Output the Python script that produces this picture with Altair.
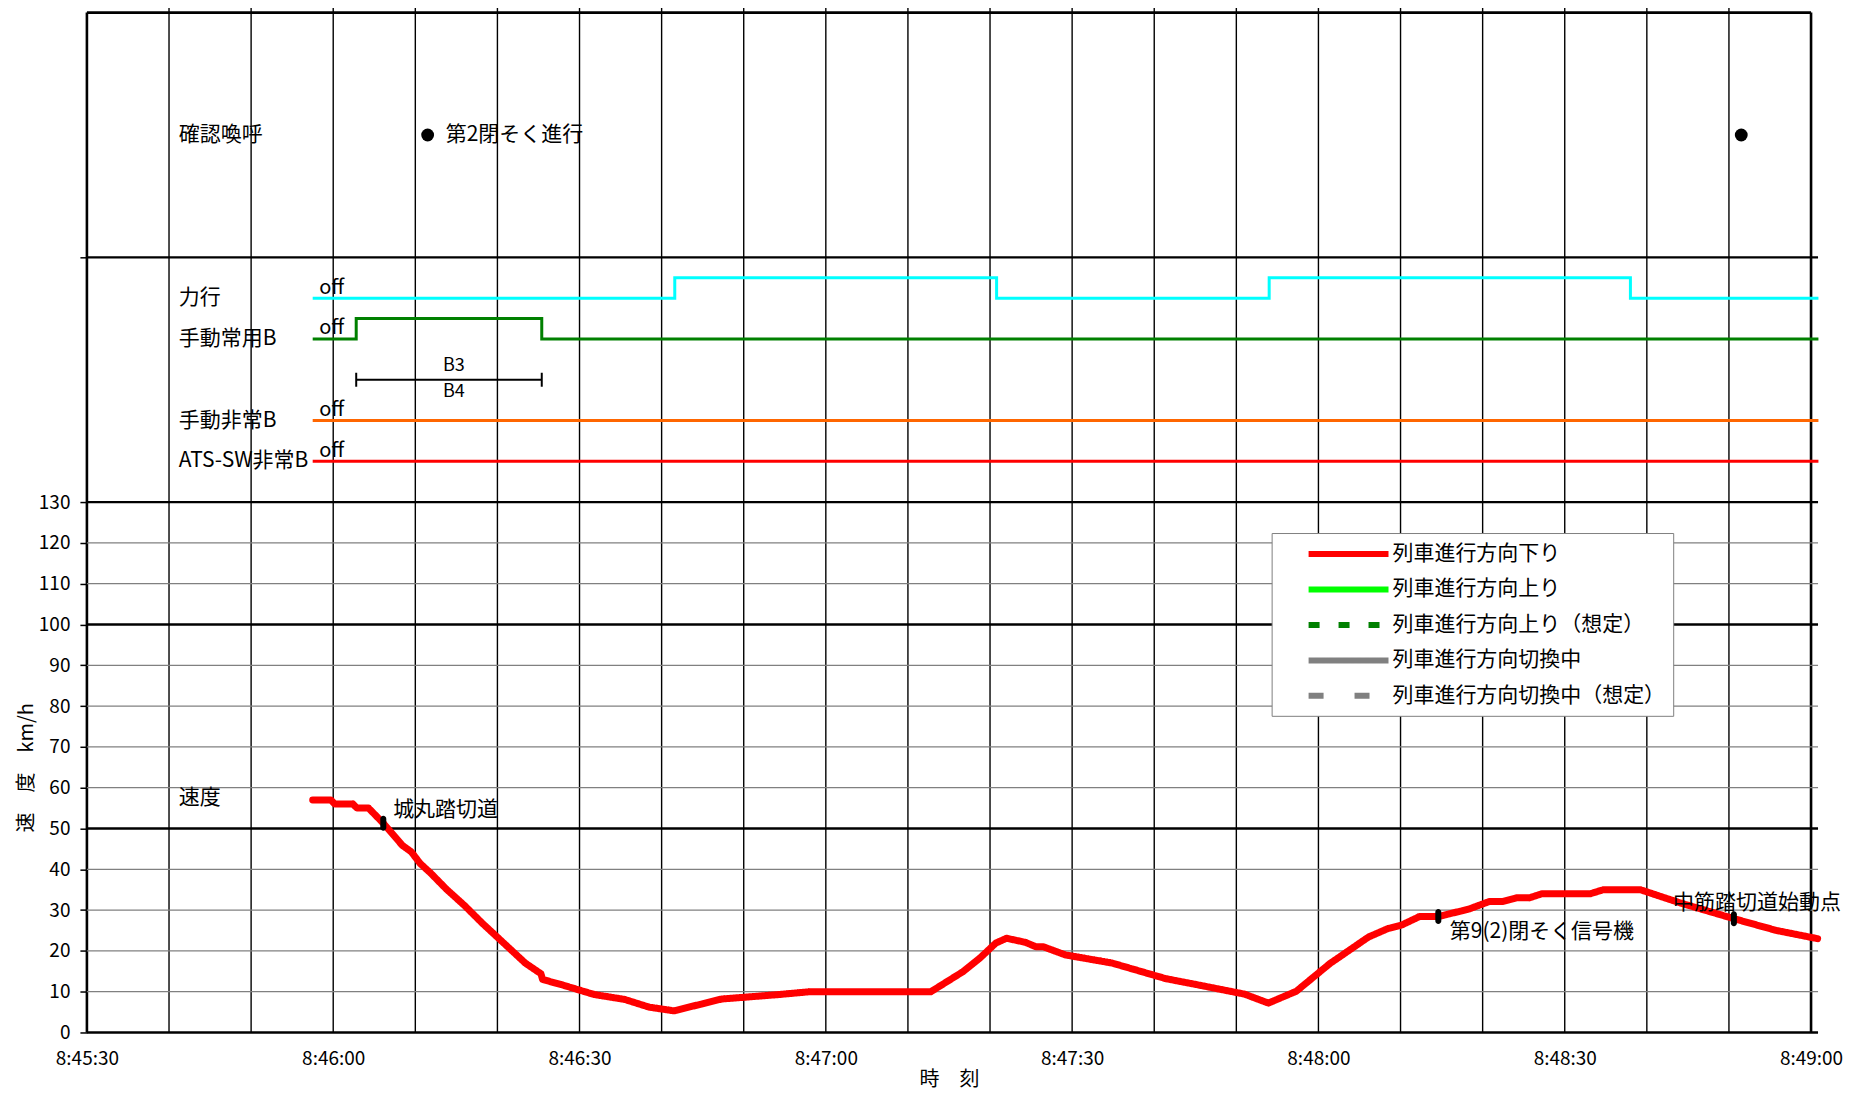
import altair as alt
import pandas as pd


def sec(s):
    h, m, x = s.split(":")
    return int(h) * 3600 + int(m) * 60 + float(x)


# ---------------- data ----------------
X_TICK_LABELS = ["8:45:30", "8:46:00", "8:46:30", "8:47:00", "8:47:30", "8:48:00", "8:48:30", "8:49:00"]
X_GRID_TIMES = ["8:45:40", "8:45:50", "8:46:00", "8:46:10", "8:46:20", "8:46:30", "8:46:40", "8:46:50",
                "8:47:00", "8:47:10", "8:47:20", "8:47:30", "8:47:40", "8:47:50", "8:48:00", "8:48:10",
                "8:48:20", "8:48:30", "8:48:40", "8:48:50"]
X_EDGE_TIMES = ["8:45:30", "8:49:00"]
Y_TICKS = [0, 10, 20, 30, 40, 50, 60, 70, 80, 90, 100, 110, 120, 130]
Y_EXTRA_TICKS = [190]
Y_MINOR_GRID = [10, 20, 30, 40, 60, 70, 80, 90, 110, 120]
Y_MAJOR_GRID = [0, 50, 100, 130, 190]
Y_TOP = [250]

SPEED_TIMES = ["8:45:57.5", "8:45:59.7", "8:46:00.2", "8:46:02.4", "8:46:02.9", "8:46:04.3", "8:46:06.1",
               "8:46:08.4", "8:46:09.5", "8:46:10.6", "8:46:11.9", "8:46:13.8", "8:46:16.0", "8:46:18.2",
               "8:46:20.4", "8:46:23.4", "8:46:25.3", "8:46:25.5", "8:46:28.0", "8:46:31.8", "8:46:35.5",
               "8:46:38.5", "8:46:41.5", "8:46:47.3", "8:46:50.5", "8:46:54.3", "8:46:58.1", "8:47:12.8",
               "8:47:16.7", "8:47:18.8", "8:47:20.7", "8:47:22.0", "8:47:24.3", "8:47:25.6", "8:47:26.5",
               "8:47:29.2", "8:47:34.9", "8:47:41.4", "8:47:45.5", "8:47:51.0", "8:47:53.9", "8:47:57.3",
               "8:48:01.4", "8:48:06.1", "8:48:08.5", "8:48:10.1", "8:48:12.3", "8:48:14.6", "8:48:16.0",
               "8:48:18.4", "8:48:20.8", "8:48:22.4", "8:48:24.1", "8:48:25.7", "8:48:27.2", "8:48:33.1",
               "8:48:34.7", "8:48:39.2", "8:48:44.0", "8:48:50.6", "8:48:55.8", "8:49:00.8"]
SPEED_VALUES = [57, 57, 56, 56, 55, 55, 51.3,
                45.9, 44.3, 41.4, 39, 35.1, 31.1, 26.7,
                22.6, 17, 14.4, 13, 11.6, 9.3, 8.1,
                6.2, 5.3, 8.2, 8.7, 9.3, 10, 10,
                14.9, 18.3, 21.9, 23.1, 22.1, 21, 21,
                19, 17, 13.2, 11.6, 9.4, 7.2, 10.1,
                16.9, 23.4, 25.5, 26.3, 28.4, 28.4, 29.1,
                30.3, 32.1, 32.1, 33, 33, 34, 34,
                35, 35, 31.8, 27.9, 25, 23]

SERIES = ["列車進行方向下り", "列車進行方向上り", "列車進行方向上り（想定）",
          "列車進行方向切換中", "列車進行方向切換中（想定）"]
SERIES_COLORS = ["#ff0000", "#00ff00", "#008000", "#808080", "#808080"]
SERIES_DASHES = [[1, 0], [1, 0], [11, 19], [1, 0], [15, 31]]

SIGNAL_NAMES = ["力行", "手動常用B", "手動非常B", "ATS-SW非常B"]
SIGNAL_COLORS = ["#00ffff", "#008000", "#ff6600", "#ff0000"]
SIGNAL_TIMES = [
    ["8:45:57.5", "8:46:41.6", "8:47:20.8", "8:47:54.0", "8:48:38.0", "8:49:00.9"],
    ["8:45:57.5", "8:46:02.8", "8:46:25.4", "8:49:00.9"],
    ["8:45:57.5", "8:49:00.9"],
    ["8:45:57.5", "8:49:00.9"],
]
SIGNAL_STATES = [
    [0, 1, 0, 1, 0, 0],
    [0, 1, 0, 0],
    [0, 0],
    [0, 0],
]

CALL_TIMES = ["8:46:11.5", "8:48:51.5"]
CALL_TEXT = "第2閉そく進行"

MARKER_TIMES = ["8:46:06.1", "8:48:14.6", "8:48:50.6"]
MARKER_SPEEDS = [51.3, 28.4, 27.9]
MARKER_NAMES = ["城丸踏切道", "第9(2)閉そく信号機", "中筋踏切道始動点"]

BRAKE_SPAN = ["8:46:02.8", "8:46:25.4"]
BRAKE_TEXT = ["B3", "B4"]

# ---------------- layout (positions on the shared y scale) ----------------
W, H = 1726, 1021
XMIN, XMAX = sec(X_TICK_LABELS[0]), sec(X_TICK_LABELS[-1])
SIGNAL_BASE = [180, 170, 150, 140]
STEP = 5
CALL_LEVEL = 220
BRAKE_LEVEL = 160
BRAKE_TEXT_T = "8:46:14.7"
LEFT_LABEL_T = "8:45:41.2"
OFF_T = "8:45:58.3"
FONT = "Noto Sans CJK JP"

xs = alt.Scale(domain=[XMIN, XMAX], nice=False, zero=False)
ys = alt.Scale(domain=[0, 250], nice=False, zero=False)

x_axis = alt.Axis(values=[sec(s) for s in X_TICK_LABELS],
                  labelExpr="floor(datum.value/3600) + ':' + (floor((datum.value%3600)/60) < 10 ? '0' : '') + floor((datum.value%3600)/60) + ':' + (datum.value%60 < 10 ? '0' : '') + (datum.value%60)",
                  title="時　刻", domain=False, ticks=False, tickSize=0, grid=False,
                  labelPadding=26, labelBaseline="middle", labelFont=FONT, labelFontSize=19,
                  labelColor="black", labelFlush=False, labelOverlap=False,
                  titleFont=FONT, titleFontSize=20, titleFontWeight="normal", titleColor="black",
                  titleBaseline="middle", titleY=47)
y_axis = alt.Axis(values=Y_TICKS + Y_EXTRA_TICKS,
                  labelExpr="datum.value > 130 ? '' : datum.label",
                  title="速　度　km/h", domain=False, ticks=True, tickSize=7, tickWidth=1.5,
                  tickColor="black", grid=False, labelPadding=10, labelFont=FONT, labelFontSize=19,
                  labelColor="black", labelFlush=False, labelOverlap=False,
                  titleFont=FONT, titleFontSize=20, titleFontWeight="normal", titleColor="black",
                  titleAngle=270, titleAlign="center", titleBaseline="middle",
                  titleX=-60, titleY=H * (1 - 65 / 250))


def X(f="t"):
    return alt.X(f"{f}:Q", scale=xs, axis=x_axis)


def Y(f="v"):
    return alt.Y(f"{f}:Q", scale=ys, axis=y_axis)


layers = []

# vertical grid
layers.append(alt.Chart(pd.DataFrame({"t": [sec(s) for s in X_GRID_TIMES]})).mark_rule(
    color="black", strokeWidth=1.4).encode(x=X(), y=alt.value(-8), y2=alt.value(H)))
layers.append(alt.Chart(pd.DataFrame({"t": [sec(s) for s in X_EDGE_TIMES]})).mark_rule(
    color="black", strokeWidth=2.6).encode(x=X(), y=alt.value(0), y2=alt.value(H)))
# horizontal grid
layers.append(alt.Chart(pd.DataFrame({"v": Y_MINOR_GRID})).mark_rule(
    color="#808080", strokeWidth=1.2).encode(y=Y(), x=alt.value(0), x2=alt.value(W + 7)))
layers.append(alt.Chart(pd.DataFrame({"v": Y_MAJOR_GRID})).mark_rule(
    color="black", strokeWidth=2.4).encode(y=Y(), x=alt.value(0), x2=alt.value(W + 7)))
layers.append(alt.Chart(pd.DataFrame({"v": Y_TOP})).mark_rule(
    color="black", strokeWidth=2.6).encode(y=Y(), x=alt.value(0), x2=alt.value(W)))

# signal step lines
for name, col, base, times, states in zip(SIGNAL_NAMES, SIGNAL_COLORS, SIGNAL_BASE, SIGNAL_TIMES, SIGNAL_STATES):
    df = pd.DataFrame({"t": [sec(s) for s in times], "v": [base + STEP * st for st in states]})
    layers.append(alt.Chart(df).mark_line(interpolate="step-after", color=col, strokeWidth=3).encode(
        x=X(), y=Y()))

# brake span B3/B4
bdf = pd.DataFrame({"t": [sec(BRAKE_SPAN[0])], "t2": [sec(BRAKE_SPAN[1])], "v": [BRAKE_LEVEL]})
layers.append(alt.Chart(bdf).mark_rule(color="black", strokeWidth=2).encode(
    x=X(), x2=alt.X2("t2:Q"), y=Y()))
bedf = pd.DataFrame({"t": [sec(s) for s in BRAKE_SPAN], "v": [BRAKE_LEVEL] * 2})
layers.append(alt.Chart(bedf).mark_tick(orient="vertical", size=14, thickness=2, color="black",
                                        opacity=1).encode(x=X(), y=Y()))

# speed line with legend
legend = alt.Legend(title=None, orient="none", legendX=1186, legendY=521,
                    fillColor="white", strokeColor="#808080", padding=8, rowPadding=10.5,
                    symbolType="M-4,0H4", symbolSize=400, symbolStrokeWidth=6,
                    symbolOffset=56, labelOffset=31,
                    labelFont=FONT, labelFontSize=21, labelColor="black", labelLimit=400,
                    labelExpr="datum.label + '\u3000\u3000'", zindex=1)
sdf = pd.DataFrame({"t": [sec(s) for s in SPEED_TIMES], "v": SPEED_VALUES, "series": SERIES[0]})
layers.append(alt.Chart(sdf).mark_line(strokeWidth=7, strokeCap="round", strokeJoin="round").encode(
    x=X(), y=Y(),
    color=alt.Color("series:N", scale=alt.Scale(domain=SERIES, range=SERIES_COLORS), legend=legend),
    strokeDash=alt.StrokeDash("series:N", scale=alt.Scale(domain=SERIES, range=SERIES_DASHES), legend=legend),
))

# markers on the speed line
mdf = pd.DataFrame({"t": [sec(s) for s in MARKER_TIMES], "v": MARKER_SPEEDS})
layers.append(alt.Chart(mdf).mark_tick(orient="vertical", size=15, thickness=6, color="black",
                                       opacity=1, cornerRadius=3).encode(x=X(), y=Y()))

# call dots
cdf = pd.DataFrame({"t": [sec(s) for s in CALL_TIMES], "v": [CALL_LEVEL] * len(CALL_TIMES)})
layers.append(alt.Chart(cdf).mark_circle(size=165, color="black", opacity=1).encode(x=X(), y=Y()))

# left-aligned texts
txt_rows = []
for lab, lv in zip(["確認喚呼"] + SIGNAL_NAMES + ["速度"], [CALL_LEVEL] + SIGNAL_BASE + [57.5]):
    txt_rows.append((lab, sec(LEFT_LABEL_T), lv))
txt_rows.append((CALL_TEXT, sec("8:46:13.7"), CALL_LEVEL))
for lab, t, v in zip(MARKER_NAMES, ["8:46:07.3", "8:48:16.0", "8:48:43.2"], [54.6, 24.6, 31.8]):
    txt_rows.append((lab, sec(t), v))
tdf = pd.DataFrame(txt_rows, columns=["label", "t", "v"])
layers.append(alt.Chart(tdf).mark_text(align="left", baseline="middle", font=FONT, fontSize=21,
                                       color="black").encode(x=X(), y=Y(), text="label:N"))
odf = pd.DataFrame({"label": ["off"] * len(SIGNAL_BASE), "t": [sec(OFF_T)] * len(SIGNAL_BASE),
                    "v": [b + 2.6 for b in SIGNAL_BASE]})
layers.append(alt.Chart(odf).mark_text(align="left", baseline="middle", font=FONT, fontSize=20,
                                       color="black").encode(x=X(), y=Y(), text="label:N"))

# centered B3/B4
bt = pd.DataFrame({"label": BRAKE_TEXT,
                   "t": [sec(BRAKE_TEXT_T)] * 2,
                   "v": [BRAKE_LEVEL + 3.4, BRAKE_LEVEL - 3.1]})
layers.append(alt.Chart(bt).mark_text(align="center", baseline="middle", font=FONT, fontSize=18,
                                      color="black").encode(x=X(), y=Y(), text="label:N"))

chart = alt.layer(*layers).properties(
    width=W, height=H,
    autosize=alt.AutoSizeParams(type="none"),
    padding={"left": 79, "top": 4, "right": 40, "bottom": 58},
    background="white",
).configure_view(stroke=None)

chart.save("out.html", embed_options={"renderer": "svg", "actions": False})
